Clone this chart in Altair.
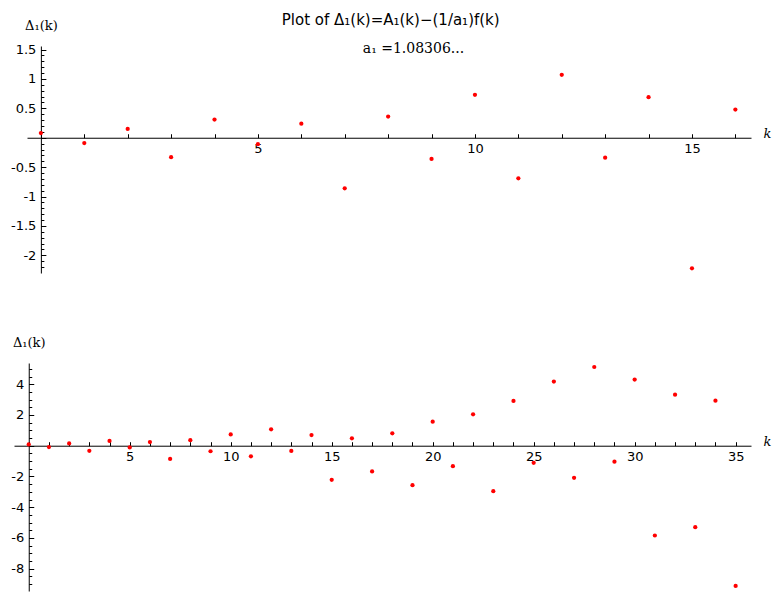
import altair as alt
import pandas as pd

# ---- data ----
k_values = list(range(36))
delta_values = [0.08, -0.09, 0.15, -0.33, 0.31, -0.11, 0.24, -0.86, 0.36, -0.36,
                0.73, -0.69, 1.07, -0.34, 0.69, -2.22, 0.48, -1.67, 0.81, -2.57,
                1.56, -1.33, 2.04, -2.96, 2.91, -1.11, 4.17, -2.09, 5.12, -1.04,
                4.30, -5.84, 3.32, -5.30, 2.93, -9.12]
top_k_max = 16

title_text = "Plot of Δ₁(k)=A₁(k)−(1/a₁)f(k)"
subtitle_text = "a₁ =1.08306..."
y_title = "Δ₁(k)"
x_title = "k"

top_x_labels = [5, 10, 15]
top_x_ticks = list(range(0, 17))
top_y_labels = [-2, -1.5, -1, -0.5, 0.5, 1, 1.5]
top_y_major = [-2, -1.5, -1, -0.5, 0, 0.5, 1, 1.5]
top_y_minor = [round(-2.2 + 0.1 * i, 1) for i in range(38)]

bottom_x_labels = [5, 10, 15, 20, 25, 30, 35]
bottom_x_ticks = list(range(0, 36))
bottom_y_labels = [-8, -6, -4, -2, 2, 4]
bottom_y_major = [-8, -6, -4, -2, 0, 2, 4]
bottom_y_minor = [round(-9 + 0.5 * i, 1) for i in range(29)]

df_all = pd.DataFrame({"k": k_values, "d": delta_values})
df_top = df_all[df_all["k"] <= top_k_max]

SANS = "DejaVu Sans"
SERIF = "DejaVu Serif"
LABEL_EXPR = "(datum.value < 0 ? '-' : '') + format(abs(datum.value), '~g')"


def panel(df, xdom, xrng, width, ydom, height, xlab, xtk, ylab, ymaj, ymin):
    x0 = xrng[0] + (0 - xdom[0]) / (xdom[1] - xdom[0]) * (xrng[1] - xrng[0])
    y0 = height * (ydom[1] - 0) / (ydom[1] - ydom[0])
    xs = alt.Scale(domain=xdom, range=xrng, nice=False, zero=False)
    ys = alt.Scale(domain=ydom, nice=False, zero=False)
    common = dict(labelFont=SANS, labelFontSize=13, labelColor="black",
                  domainColor="black", domainWidth=1, grid=False, minExtent=0,
                  ticks=False, labelPadding=5)
    tick_common = dict(labels=False, domain=False, ticks=True, tickColor="black",
                       tickWidth=1, grid=False, minExtent=0, title=None)

    pts = alt.Chart(df).mark_circle(color="#ff0000", size=18, opacity=1).encode(
        x=alt.X("k:Q", scale=xs, axis=alt.Axis(
            orient="bottom", offset=y0 - height, values=xlab, format="d",
            labelFlush=False, labelOverlap=False,
            title=x_title, titleX=xrng[1] + 12, titleY=0, titleAngle=0,
            titleAlign="left", titleBaseline="alphabetic", titleFont=SERIF,
            titleFontStyle="italic", titleFontWeight="normal", titleFontSize=13,
            titleColor="black", **common)),
        y=alt.Y("d:Q", scale=ys, axis=alt.Axis(
            orient="left", offset=-x0, values=ylab, labelExpr=LABEL_EXPR,
            labelOverlap=False,
            title=y_title, titleX=0, titleY=-21, titleAngle=0, titleAlign="center",
            titleBaseline="middle", titleFont=SERIF, titleFontWeight="normal",
            titleFontSize=13, titleColor="black", **common)),
    )
    ticks_major = alt.Chart(df).mark_circle(opacity=0).encode(
        x=alt.X("k:Q", scale=xs, axis=alt.Axis(
            orient="top", offset=-y0, values=xtk, tickSize=4, **tick_common)),
        y=alt.Y("d:Q", scale=ys, axis=alt.Axis(
            orient="right", offset=x0 - width, values=ymaj, tickSize=5, **tick_common)),
    )
    ticks_minor = alt.Chart(df).mark_circle(opacity=0).encode(
        x=alt.X("k:Q", scale=xs, axis=None),
        y=alt.Y("d:Q", scale=ys, axis=alt.Axis(
            orient="right", offset=x0 - width, values=ymin, tickSize=3, **tick_common)),
    )
    return alt.layer(pts, ticks_major, ticks_minor).resolve_axis(
        x="independent", y="independent"
    ).properties(width=width, height=height)


top = panel(df_top, [-0.32, 16.36], [13, 737], 737, [-2.30, 1.56], 227,
            top_x_labels, top_x_ticks, top_y_labels, top_y_major, top_y_minor)
top = top.properties(title=alt.TitleParams(
    text=subtitle_text, font=SERIF, fontSize=14, fontWeight="normal",
    color="black", anchor="middle", offset=-37, dx=31,
))
bottom = panel(df_all, [-0.73, 35.76], [0, 737], 737, [-9.45, 5.38], 228,
               bottom_x_labels, bottom_x_ticks, bottom_y_labels, bottom_y_major,
               bottom_y_minor)

chart = alt.vconcat(top, bottom, spacing=90, bounds="flush").properties(
    title=alt.TitleParams(
        text=title_text, font=SANS, fontSize=15, fontWeight="normal",
        color="black", anchor="middle", offset=-9,
    ),
    padding={"left": 2, "top": 5, "right": 2, "bottom": 2},
).configure_view(strokeWidth=0)

chart.save("out.html", embed_options={"renderer": "svg", "actions": False})
